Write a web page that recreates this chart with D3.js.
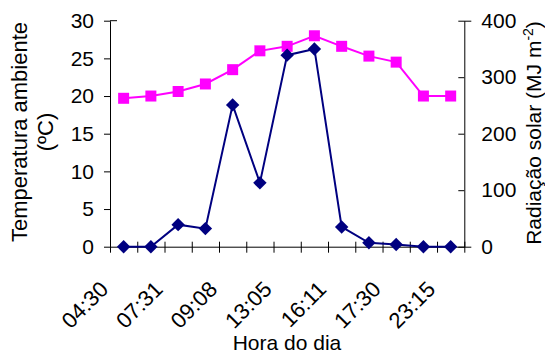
<!DOCTYPE html>
<html>
<head>
<meta charset="utf-8">
<script src="https://cdn.jsdelivr.net/npm/d3@7"></script>
<style>
  html, body { margin: 0; padding: 0; background: #fff; }
  svg { display: block; }
  text { font-family: "Liberation Sans", Arial, sans-serif; fill: #000; }
</style>
</head>
<body>
<svg id="chart" width="545" height="356"></svg>
<script>
// Hourly readings: 13 measurement times, labels shown on every second one
const tickLabels = ["04:30", "07:31", "09:08", "13:05", "16:11", "17:30", "23:15"];
const slots = d3.range(13);
// Ambient temperature (°C), left axis
const temperatura = [19.7, 20.0, 20.6, 21.6, 23.5, 26.0, 26.6, 28.0, 26.6, 25.3, 24.5, 20.0, 20.0];
// Solar radiation (MJ m-2), right axis
const radiacao = [0, 0, 39, 32, 251, 113, 339, 350, 35, 7, 4, 0, 0];
const tempTicks = [0, 5, 10, 15, 20, 25, 30];
const radTicks = [0, 100, 200, 300, 400];

const svg = d3.select("#chart");
const plot = { left: 110, right: 464.3, top: 20.7, bottom: 246.7 };
const fs = 21;

const x = d3.scaleBand().domain(slots).range([plot.left, plot.right]).padding(0);
const xEdge = d3.scaleLinear().domain([0, slots.length]).range([plot.left, plot.right]);
const yT = d3.scaleLinear().domain([0, 30]).range([plot.bottom, plot.top]);
const yR = d3.scaleLinear().domain([0, 400]).range([plot.bottom, plot.top]);
const cx = i => x(i) + x.bandwidth() / 2;

// Left axis (outside ticks)
const gL = svg.append("g").attr("transform", `translate(${plot.left},0)`)
  .call(d3.axisLeft(yT).tickValues(tempTicks).tickSize(6).tickSizeOuter(0).tickPadding(10));
gL.selectAll("text").style("font-size", fs + "px").attr("font-family", null);
gL.selectAll("line, path").attr("stroke", "#000");
svg.append("line").attr("x1", plot.left).attr("x2", plot.left + 7)
  .attr("y1", yT(30)).attr("y2", yT(30)).attr("stroke", "#000");

// Right axis (inside ticks, labels outside)
const gR = svg.append("g").attr("transform", `translate(${plot.right},0)`)
  .call(d3.axisRight(yR).tickValues(radTicks).tickSize(0).tickSizeOuter(0).tickPadding(17));
gR.selectAll("text").style("font-size", fs + "px").attr("font-family", null);
gR.selectAll("path").attr("stroke", "#000");
gR.selectAll(".tick").append("line")
  .attr("x1", -6).attr("x2", d => (d === 0 || d === 400) ? 7 : 0)
  .attr("stroke", "#000");

// Bottom axis: tick marks on category boundaries crossing the axis
const gB = svg.append("g").attr("transform", `translate(0,${plot.bottom})`)
  .call(d3.axisBottom(xEdge).tickValues(d3.range(slots.length + 1))
    .tickSize(6).tickSizeOuter(0).tickFormat(""));
gB.selectAll(".tick line").attr("y1", -5).attr("stroke", "#000");
gB.select("path").attr("stroke", "#000");

// Category labels, rotated
const labelSlots = slots.filter(i => i % 2 === 0);
svg.append("g").selectAll("text").data(labelSlots).join("text")
  .attr("transform", i => `translate(${cx(i) - 14},${plot.bottom + 44}) rotate(-45)`)
  .attr("text-anchor", "end")
  .style("font-size", "22px")
  .text((i, k) => tickLabels[k]);

// Axis titles
svg.append("text").attr("x", 287).attr("y", 350).attr("text-anchor", "middle")
  .style("font-size", fs + "px").text("Hora do dia");

const tl = svg.append("text").attr("transform", "translate(27,132) rotate(-90)")
  .attr("text-anchor", "middle").style("font-size", "22px");
tl.append("tspan").attr("x", 0).attr("y", 0).text("Temperatura ambiente");
tl.append("tspan").attr("x", 0).attr("y", 26).text("(ºC)");

const tr = svg.append("text").attr("transform", "translate(541,133) rotate(-90)")
  .attr("text-anchor", "middle").style("font-size", fs + "px");
tr.append("tspan").text("Radiação solar (MJ m");
tr.append("tspan").attr("dy", -8).style("font-size", "14px").text("-2");
tr.append("tspan").attr("dy", 8).text(")");

// Temperature series (magenta squares)
const lineT = d3.line().x((d, i) => cx(i)).y(d => yT(d));
svg.append("path").datum(temperatura).attr("d", lineT)
  .attr("fill", "none").attr("stroke", "#FF00FF").attr("stroke-width", 2);
svg.append("g").selectAll("path").data(temperatura).join("path")
  .attr("d", d3.symbol(d3.symbolSquare, 121))
  .attr("transform", (d, i) => `translate(${cx(i)},${yT(d)})`)
  .attr("fill", "#FF00FF");

// Radiation series (navy diamonds)
const lineR = d3.line().x((d, i) => cx(i)).y(d => yR(d));
svg.append("path").datum(radiacao).attr("d", lineR)
  .attr("fill", "none").attr("stroke", "#000080").attr("stroke-width", 2);
svg.append("g").selectAll("path").data(radiacao).join("path")
  .attr("d", d3.symbol(d3.symbolSquare, 90))
  .attr("transform", (d, i) => `translate(${cx(i)},${yR(d)}) rotate(45)`)
  .attr("fill", "#000080");
</script>
</body>
</html>
